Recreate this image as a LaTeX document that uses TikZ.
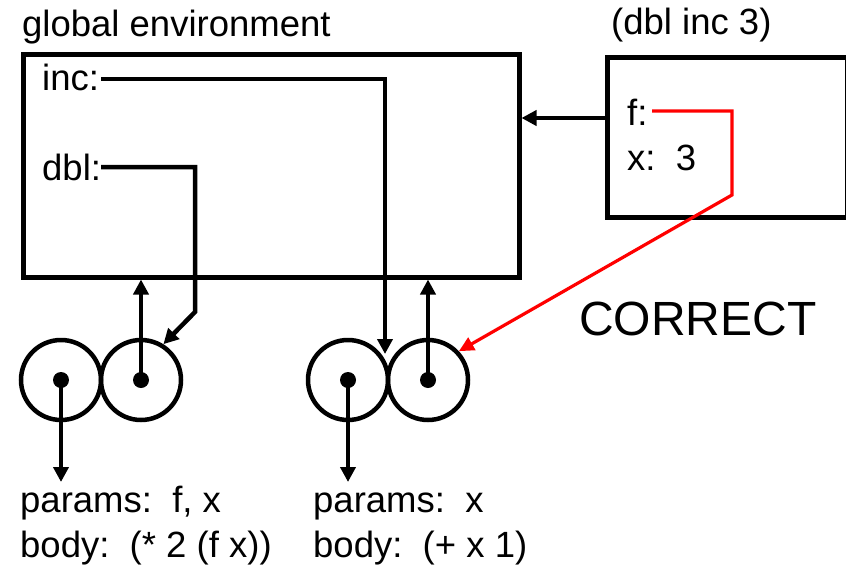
\documentclass[tikz,border=0pt]{standalone}
\usepackage{fontspec}
\setmainfont{Liberation Sans}
\usetikzlibrary{arrows.meta,calc}
\begin{document}
\begin{tikzpicture}[x=1pt,y=-1pt,
  txt/.style={inner sep=0pt, anchor=base west, font=\fontsize{36.5}{42}\selectfont},
  box/.style={draw, line width=4.5pt, inner sep=0pt, anchor=north west},
  ring/.style={draw, circle, line width=4.5pt, inner sep=0pt, minimum size=80pt},
  arr/.style={line width=4.5pt, -{Triangle[length=15pt,width=15pt]}},
  redarr/.style={line width=3.2pt, red, -{Triangle[length=15pt,width=14pt]}}]
\useasboundingbox (0,0) rectangle (846,565);
% boxes
\node[box, minimum width=496pt, minimum height=223pt] (genv) at (21,52) {};
\node[box, minimum width=240pt, minimum height=160pt] (frame) at (605,55) {};
% titles
\node[txt] (gtitle) at (22,36) {global environment};
\node[txt] (ftitle) at (611,34) {(dbl inc 3)};
\node[txt, font=\fontsize{48}{56}\selectfont] (correct) at (579,335) {CORRECT};
% bindings
\node[txt] (inc) at (42,90) {inc:};
\node[txt] (dbl) at (42,180) {dbl:};
\node[txt] (f) at (627,125) {f:};
\node[txt] (x) at (627,170) {x:\ \ 3};
% closures
\node[ring] (c1a) at (61,380) {};
\node[ring] (c1b) at (141,380) {};
\node[ring] (c2a) at (348,380) {};
\node[ring] (c2b) at (428,380) {};
\foreach \c in {c1a,c1b,c2a,c2b} \fill (\c.center) circle (8pt);
% code texts
\node[txt] (p1) at (20,512) {params:\ \ f, x};
\node[txt] (b1) at (20,557) {body:\ \ (* 2 (f x))};
\node[txt] (p2) at (313,512) {params:\ \ x};
\node[txt] (b2) at (313,557) {body:\ \ (+ x 1)};
% coordinates
\coordinate (incs) at (101,79);
\coordinate (inct) at (385,354);
\coordinate (dbls) at (101,167);
\coordinate (fs) at (652,111);
\coordinate (d1) at (61,482);
\coordinate (d2) at (348,482);
% connectors
\draw[arr] (incs) -| (inct);
\draw[arr] (dbls) -- (195,167) -- (195,312) -- (c1b.58);
\draw[arr] (c1b.center) -- (c1b.center |- genv.south);
\draw[arr] (c2b.center) -- (c2b.center |- genv.south);
\draw[arr] (c1a.center) -- (d1);
\draw[arr] (c2a.center) -- (d2);
\draw[arr] (frame.west |- 0,118) -- (genv.east |- 0,118);
\draw[redarr] (fs) -- (732,111) -- (732,195) -- (c2b.43);
\end{tikzpicture}
\end{document}
